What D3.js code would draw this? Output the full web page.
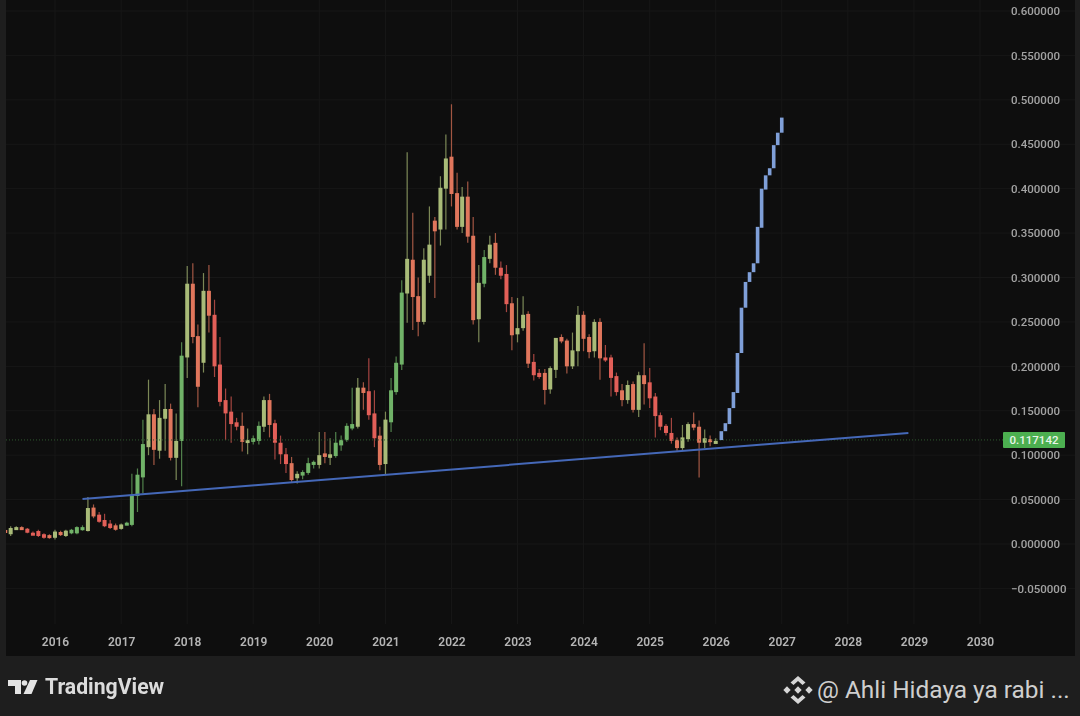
<!DOCTYPE html>
<html>
<head>
<meta charset="utf-8">
<script src="https://cdn.jsdelivr.net/npm/d3@7"></script>
<style>
html, body {margin: 0; padding: 0; background: #1e1e1e; overflow: hidden;}
svg {display: block;}
text {font-family: Roboto, sans-serif;}
</style>
</head>
<body>
<div id="chart"></div>
<script>
const width = 1080
const height = 716

// Monthly candles from April 2015, each row is open, high, low, close
const firstCandle = [2015, 3]
const ohlc = [
  [.0158,.017,.011,.0124],[.011,.020,.009,.018],[.017,.020,.016,.019],[.019,.020,.016,.017],[.0172,.018,.012,.0127],
  [.0127,.014,.011,.012],[.0146,.016,.008,.009],[.011,.012,.006,.007],[.010,.011,.006,.007],[.007,.016,.005,.014],
  [.0135,.015,.009,.010],[.009,.016,.008,.015],[.012,.017,.011,.016],[.012,.020,.011,.019],[.0155,.021,.015,.019],
  [.0146,.053,.014,.0405],[.041,.0445,.029,.031],[.033,.036,.024,.025],[.027,.034,.019,.020],[.023,.027,.017,.018],
  [.021,.023,.015,.016],[.017,.023,.016,.022],[.022,.025,.021,.024],[.0215,.079,.020,.055],[.054,.085,.036,.078],
  [.075,.14,.057,.1125],[.109,.185,.100,.146],[.146,.152,.089,.106],[.105,.162,.096,.142],[.141,.18,.105,.152],
  [.152,.158,.094,.097],[.097,.147,.072,.116],[.116,.227,.065,.212],[.21,.313,.187,.293],[.293,.316,.226,.233],
  [.234,.247,.154,.177],[.204,.305,.193,.285],[.285,.314,.238,.257],[.258,.275,.188,.2],[.202,.233,.155,.16],
  [.162,.175,.117,.147],[.149,.166,.114,.135],[.137,.142,.128,.132],[.133,.148,.104,.115],[.115,.13,.101,.117],
  [.115,.122,.112,.119],[.116,.138,.112,.133],[.132,.166,.126,.162],[.162,.169,.12,.134],[.136,.14,.095,.114],
  [.114,.122,.09,.101],[.101,.108,.08,.09],[.091,.098,.07,.072],[.074,.082,.068,.079],[.077,.083,.073,.081],
  [.08,.097,.078,.091],[.089,.094,.085,.0925],[.089,.126,.085,.1],[.102,.126,.091,.098],[.097,.119,.089,.101],
  [.099,.126,.097,.114],[.111,.122,.105,.117],[.117,.136,.115,.133],[.13,.176,.128,.135],[.132,.187,.13,.176],
  [.176,.182,.151,.170],[.172,.209,.14,.145],[.147,.173,.109,.119],[.122,.132,.083,.089],[.09,.149,.078,.14],
  [.137,.187,.126,.173],[.171,.211,.168,.204],[.202,.297,.196,.283],[.282,.441,.249,.321],[.320,.373,.241,.278],
  [.279,.3,.234,.25],[.25,.333,.247,.32],[.302,.38,.294,.337],[.364,.368,.277,.352],[.354,.414,.336,.401],
  [.4,.461,.354,.434],[.436,.495,.38,.394],[.395,.418,.354,.357],[.357,.402,.35,.391],[.391,.408,.339,.346],
  [.347,.368,.247,.252],[.253,.314,.227,.294],[.293,.331,.289,.323],[.321,.347,.316,.337],[.339,.35,.303,.311],
  [.311,.318,.298,.302],[.304,.314,.261,.27],[.271,.278,.218,.235],[.236,.277,.227,.243],[.243,.279,.24,.258],
  [.259,.262,.198,.203],[.205,.214,.184,.19],[.1926,.197,.186,.188],[.1926,.197,.157,.1734],[.174,.2,.169,.198],
  [.196,.232,.187,.232],[.233,.236,.226,.228],[.229,.231,.192,.2],[.2,.238,.197,.218],[.217,.268,.2,.258],
  [.258,.262,.217,.231],[.233,.236,.209,.216],[.217,.253,.21,.25],[.25,.254,.185,.209],[.21,.224,.205,.207],
  [.21,.213,.166,.187],[.189,.193,.167,.171],[.173,.18,.155,.162],[.162,.184,.158,.179],[.18,.183,.148,.151],
  [.151,.194,.143,.19],[.19,.226,.157,.18],[.182,.198,.153,.164],[.166,.17,.12,.144],[.145,.148,.128,.132],
  [.133,.135,.122,.125],[.125,.142,.113,.116],[.117,.12,.105,.108],[.108,.134,.106,.12],[.118,.137,.115,.135],
  [.135,.148,.128,.131],[.132,.139,.075,.114],[.114,.129,.108,.119],[.118,.122,.11,.115],[.115,.119,.113,.116]
]

// Projected blue bars, each row is open, close
const forecastStart = [2026, 1]
const forecastEnd = [2027, 0]
const forecast = [
  [.117,.127],[.127,.136],[.135,.153],[.153,.171],[.17,.215],[.215,.266],[.266,.295],[.295,.306],
  [.306,.316],[.316,.357],[.356,.4],[.399,.415],[.415,.423],[.423,.449],[.449,.463],[.463,.48]
]

const trendDates = [[2016, 5], [2028, 11]]
const trendValues = [.0507, .125]
const lastPrice = 0.117142
const yTicks = [-.05, 0, .05, .1, .15, .2, .25, .3, .35, .4, .45, .5, .55, .6]
const years = d3.range(2016, 2031)

const plot = {left: 6, right: 1075, top: 0, bottom: 656, gridBottom: 624}

const x = d3.scaleTime().domain([new Date(2016, 0, 1), new Date(2030, 0, 1)]).range([55, 980])
const y = d3.scaleLinear().domain([0, .6]).range([544, 11])
const toDate = ([yr, mo]) => new Date(yr, mo, 1)

const svg = d3.select("div#chart").append("svg").attr("width", width).attr("height", height)

const defs = svg.append("defs")
defs.append("filter").attr("id", "soft").attr("x", "-20%").attr("y", "-20%").attr("width", "140%").attr("height", "140%")
  .append("feGaussianBlur").attr("stdDeviation", 0.7)
defs.append("filter").attr("id", "softText").append("feGaussianBlur").attr("stdDeviation", 0.35)
defs.append("clipPath").attr("id", "plotClip").append("rect")
  .attr("x", plot.left).attr("y", plot.top).attr("width", plot.right - plot.left).attr("height", plot.bottom - plot.top)

// Backgrounds
svg.append("rect").attr("width", width).attr("height", height).attr("fill", "#1e1e1e")
svg.append("rect").attr("x", plot.left).attr("y", plot.top)
  .attr("width", plot.right - plot.left).attr("height", plot.bottom - plot.top).attr("fill", "#0e0e0e")

// Grid
const gridGroup = svg.append("g").attr("stroke", "#171717").attr("stroke-width", 1)
gridGroup.selectAll(".gridX").data(years).enter().append("line")
  .attr("x1", d => x(new Date(d, 0, 1))).attr("x2", d => x(new Date(d, 0, 1)))
  .attr("y1", plot.top).attr("y2", plot.gridBottom)
gridGroup.selectAll(".gridY").data(yTicks).enter().append("line")
  .attr("x1", plot.left).attr("x2", plot.right)
  .attr("y1", d => y(d)).attr("y2", d => y(d))

// Candles
const candleData = ohlc.map((d, i) => ({
  date: new Date(firstCandle[0], firstCandle[1] + i, 1),
  open: d[0], high: d[1], low: d[2], close: d[3], up: d[3] >= d[0]
}))

// Neighbouring bars of the other direction bleed into each other in the compressed screenshot
const green = "#6fb267"
const red = "#e25f58"
const candleColor = (d, i) => {
  const other = [candleData[i - 1], candleData[i + 1]].some(n => n && n.up !== d.up)
  if (!other) return d.up ? green : red
  return d.up ? "#a9bb78" : "#e0765c"
}

const candleGroup = svg.append("g").attr("clip-path", "url(#plotClip)").append("g").attr("filter", "url(#soft)")
const candleWidth = 4

candleGroup.selectAll(".wick").data(candleData).enter().append("line")
  .attr("x1", d => x(d.date)).attr("x2", d => x(d.date))
  .attr("y1", d => y(d.high)).attr("y2", d => y(d.low))
  .attr("stroke", (d, i) => d3.color(candleColor(d, i)).darker(0.9))
  .attr("stroke-width", 1.2)

candleGroup.selectAll(".body").data(candleData).enter().append("rect")
  .attr("x", d => x(d.date) - candleWidth / 2)
  .attr("y", d => y(Math.max(d.open, d.close)))
  .attr("width", candleWidth)
  .attr("height", d => Math.max(3, Math.abs(y(d.open) - y(d.close))))
  .attr("fill", candleColor)

// Last price line
svg.append("line")
  .attr("x1", plot.left).attr("x2", 1003)
  .attr("y1", y(lastPrice)).attr("y2", y(lastPrice))
  .attr("stroke", "#2f5a2f").attr("stroke-width", 1).attr("stroke-dasharray", "1 2")

// Trend line
svg.append("line")
  .attr("x1", x(toDate(trendDates[0]))).attr("x2", x(toDate(trendDates[1])))
  .attr("y1", y(trendValues[0])).attr("y2", y(trendValues[1]))
  .attr("stroke", "#4468b8").attr("stroke-width", 2).attr("filter", "url(#softText)")

// Projection
const forecastX = d3.scaleLinear().domain([0, forecast.length - 1])
  .range([x(toDate(forecastStart)), x(toDate(forecastEnd))])
svg.append("g").attr("filter", "url(#soft)").selectAll("rect").data(forecast).enter().append("rect")
  .attr("x", (d, i) => forecastX(i) - 1.8)
  .attr("y", d => y(d[1]))
  .attr("width", 3.6)
  .attr("height", d => y(d[0]) - y(d[1]))
  .attr("fill", "#7f9fd8")

// Axes
const xAxis = d3.axisBottom(x)
  .tickValues(years.map(d => new Date(d, 0, 1)))
  .tickFormat(d3.timeFormat("%Y"))
  .tickSize(0)
const xAxisGroup = svg.append("g").attr("transform", "translate(0, 634)").call(xAxis)
xAxisGroup.select(".domain").remove()
xAxisGroup.selectAll("text").attr("fill", "#b4b4b4").attr("font-size", 12).attr("font-weight", 600)
  .attr("font-family", "Roboto, sans-serif").attr("filter", "url(#softText)")

const yAxis = d3.axisRight(y)
  .tickValues(yTicks)
  .tickFormat(d => d3.format(".6f")(d).replace("-", "\u2212"))
  .tickSize(0)
const yAxisGroup = svg.append("g").attr("transform", "translate(1011, 0)").call(yAxis)
yAxisGroup.select(".domain").remove()
yAxisGroup.selectAll("text").attr("x", 0).attr("fill", "#a2a2a2").attr("font-size", 11.5).attr("font-weight", 500)
  .attr("font-family", "Roboto, sans-serif").attr("filter", "url(#softText)")

// Last price label
svg.append("rect").attr("x", 1003).attr("y", 432).attr("width", 62).attr("height", 16)
  .attr("rx", 1).attr("fill", "#4caf50")
svg.append("text").attr("x", 1034).attr("y", 444).attr("text-anchor", "middle")
  .attr("fill", "#e8f5e8").attr("font-size", 11.5).attr("font-weight", 500)
  .text(d3.format(".6f")(lastPrice))

// Footer, TradingView logo
const logo = svg.append("g").attr("fill", "#e4e4e4").attr("filter", "url(#softText)")
logo.append("path").attr("d", "M8 680h13v14h-6v-8h-7z")
logo.append("circle").attr("cx", 24.5).attr("cy", 683).attr("r", 2.8)
logo.append("path").attr("d", "M30 680h7.5l-6 14h-8z")
svg.append("text").attr("x", 45).attr("y", 693.5)
  .attr("fill", "#dcdcdc").attr("font-family", "Lato, sans-serif").attr("font-size", 21.2).attr("font-weight", 700)
  .attr("filter", "url(#softText)")
  .text("TradingView")

// Footer, Binance mark and author
const mark = svg.append("g").attr("transform", "translate(798, 690)").attr("fill", "#d6d6d6")
mark.selectAll("path").data([0, 180]).enter().append("path")
  .attr("d", "M-7.5 -7.5L0 -14L7.5 -7.5L4.5 -5L0 -9L-4.5 -5Z")
  .attr("transform", d => `rotate(${d})`)
mark.selectAll("rect").data([[-11, 0], [11, 0], [0, 0]]).enter().append("rect")
  .attr("x", -2.6).attr("y", -2.6).attr("width", 5.2).attr("height", 5.2)
  .attr("transform", d => `translate(${d[0]}, ${d[1]}) rotate(45)`)
svg.append("text").attr("x", 817).attr("y", 698)
  .attr("fill", "#cfcfcf").attr("font-family", "'Noto Sans', sans-serif").attr("font-size", 24.4)
  .text("@ Ahli Hidaya ya rabi ...")
</script>
</body>
</html>
